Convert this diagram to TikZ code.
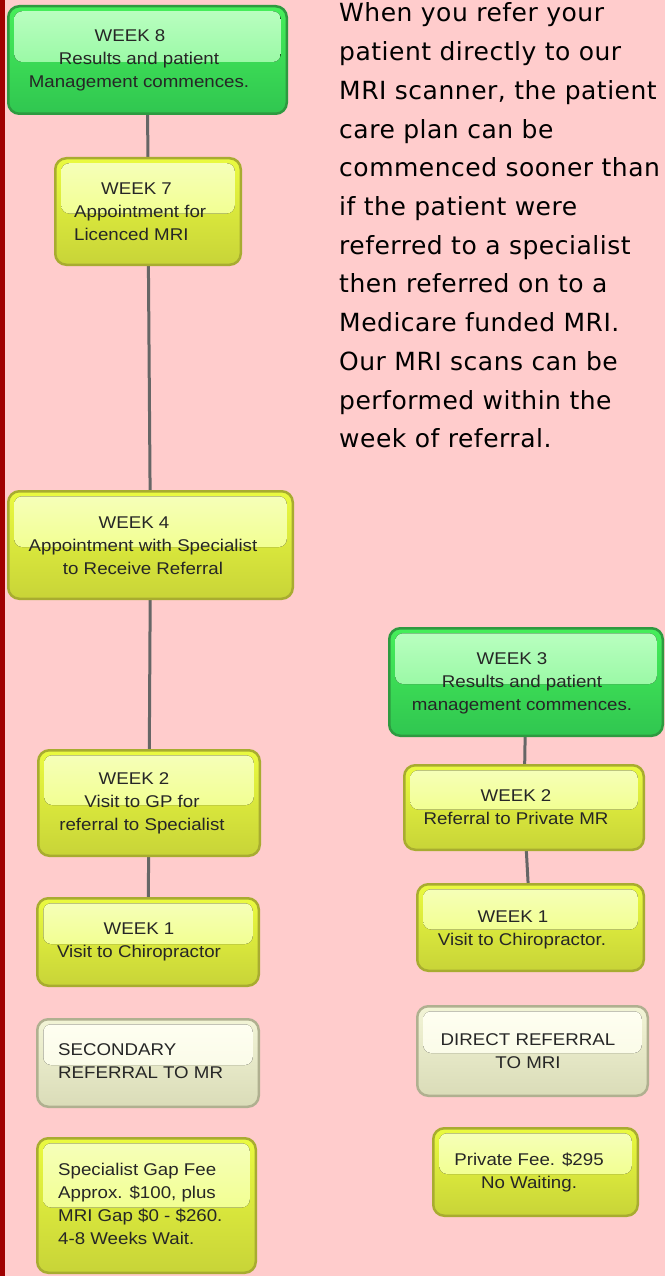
\documentclass[tikz,border=0pt]{standalone}
\usepackage{fontspec}
\setmainfont{Liberation Sans}
\newfontfamily\boxfont[FakeStretch=1.1]{Liberation Sans}
\newfontfamily\parafont[LetterSpace=2]{DejaVu Sans}
\usetikzlibrary{calc,backgrounds}
\definecolor{bgpink}{HTML}{FFCCCC}
\definecolor{stripe}{HTML}{A00000}
\definecolor{conncol}{HTML}{666666}
\definecolor{gtop}{HTML}{BCFFC2}
\definecolor{ghl}{HTML}{7CF48C}
\definecolor{gmid}{HTML}{46EE5A}
\definecolor{gbot}{HTML}{30C650}
\definecolor{gborder}{HTML}{2E9A40}
\definecolor{ytop}{HTML}{F6FFBC}
\definecolor{yhl}{HTML}{EEFF6C}
\definecolor{ymid}{HTML}{EAFA40}
\definecolor{ybot}{HTML}{C8D438}
\definecolor{yborder}{HTML}{A8AC30}
\definecolor{wtop}{HTML}{FFFFF2}
\definecolor{whl}{HTML}{F6F8E0}
\definecolor{wmid}{HTML}{F2F4D6}
\definecolor{wbot}{HTML}{DADCB8}
\definecolor{wborder}{HTML}{B0B090}
\tikzset{
  basebox/.style={rectangle, rounded corners=11pt, line width=2.5pt, inner sep=0pt},
  greenbox/.style={basebox, draw=gborder, top color=gmid, bottom color=gbot,
    path picture={\fill[rounded corners=8pt, top color=gtop, bottom color=ghl]
      ($(path picture bounding box.north west)+(6,5)$) rectangle ($(path picture bounding box.east)+(-6,2)$);}},
  yellowbox/.style={basebox, draw=yborder, top color=ymid, bottom color=ybot,
    path picture={\fill[rounded corners=8pt, top color=ytop, bottom color=yhl]
      ($(path picture bounding box.north west)+(6,5)$) rectangle ($(path picture bounding box.east)+(-6,2)$);}},
  whitebox/.style={basebox, draw=wborder, top color=wmid, bottom color=wbot,
    path picture={\fill[rounded corners=8pt, top color=wtop, bottom color=whl]
      ($(path picture bounding box.north west)+(6,5)$) rectangle ($(path picture bounding box.east)+(-6,2)$);}},
  btext/.style={font=\boxfont\fontsize{17}{23}\selectfont, text=black!85, inner sep=0pt},
  conn/.style={draw=conncol, line width=3pt},
  ptext/.style={font=\parafont\fontsize{25}{38}\selectfont, anchor=base west, inner sep=0pt}
}
\begin{document}
\begin{tikzpicture}[x=1pt,y=-1pt]
\useasboundingbox (0,0) rectangle (665,1276);
% boxes
\node[greenbox, minimum width=278.5, minimum height=107.5] (w8) at (147.5,60) {};
\node[yellowbox, minimum width=185.5, minimum height=106.5] (w7) at (148,211.5) {};
\node[yellowbox, minimum width=284.5, minimum height=107.5] (w4) at (150.5,545) {};
\node[yellowbox, minimum width=221.5, minimum height=105.5] (l2) at (149,803) {};
\node[yellowbox, minimum width=221.5, minimum height=87.5] (l1) at (148,942) {};
\node[whitebox, minimum width=221.5, minimum height=87.5] (sec) at (148,1063) {};
\node[yellowbox, minimum width=218.5, minimum height=134.5] (spec) at (146.5,1205.5) {};
\node[greenbox, minimum width=273.5, minimum height=107.5] (r3) at (526,682) {};
\node[yellowbox, minimum width=239.5, minimum height=84.5] (r2) at (524,807.5) {};
\node[yellowbox, minimum width=226.5, minimum height=86.5] (r1) at (530.5,927.5) {};
\node[whitebox, minimum width=230.5, minimum height=89.5] (dir) at (532.5,1051) {};
\node[yellowbox, minimum width=204.5, minimum height=87.5] (priv) at (535.5,1172) {};
% texts
\node[btext, align=center] (w8t) at (139,60) {WEEK 8\hspace*{18pt}\\Results and patient\\Management commences.};
\node[btext, align=left, anchor=west] (w7t) at (74,212) {\hspace*{27pt}WEEK 7\\Appointment for\\Licenced MRI};
\node[btext, align=center] (w4t) at (143,546) {WEEK 4\hspace*{18pt}\\Appointment with Specialist\\to Receive Referral};
\node[btext, align=center] (l2t) at (142,803) {WEEK 2\hspace*{16pt}\\Visit to GP for\\referral to Specialist};
\node[btext, align=center] (l1t) at (139,941.5) {WEEK 1\\Visit to Chiropractor};
\node[btext, align=left, anchor=west] (sect) at (58,1061.5) {SECONDARY\\REFERRAL TO MR};
\node[btext, align=left, anchor=west] (spect) at (58,1204) {Specialist Gap Fee\\Approx. \$100, plus\\MRI Gap \$0 - \$260.\\4-8 Weeks Wait.};
\node[btext, align=center] (r3t) at (522,683) {WEEK 3\hspace*{20pt}\\Results and patient\hspace*{14pt}\\management commences.};
\node[btext, align=center] (r2t) at (516,807.5) {WEEK 2\\Referral to Private MR};
\node[btext, align=center] (r1t) at (522,929.5) {WEEK 1\hspace*{18pt}\\Visit to Chiropractor.};
\node[btext, align=center] (dirt) at (528,1051) {DIRECT REFERRAL\\TO MRI};
\node[btext, align=center] (privt) at (529,1172) {Private Fee. \$295\\No Waiting.};
% paragraph
\foreach \t [count=\i] in {When you refer your, patient directly to our, {MRI scanner, the patient}, care plan can be, commenced sooner than, if the patient were, referred to a specialist, then referred on to a, Medicare funded MRI., Our MRI scans can be, performed within the, week of referral.}
  \node[ptext] (p\i) at (339, {22+38.7*(\i-1)}) {\t};
\begin{pgfonlayer}{background}
  \fill[bgpink] (0,0) rectangle (665,1276);
  \fill[stripe] (0,0) rectangle (5,1276);
  \draw[conn] (w8) -- (w7);
  \draw[conn] (w7) -- (w4);
  \draw[conn] (w4) -- (l2);
  \draw[conn] (l2) -- (l1);
  \draw[conn] (r3) -- (r2);
  \draw[conn] (r2) -- (r1);
\end{pgfonlayer}
\end{tikzpicture}
\end{document}
